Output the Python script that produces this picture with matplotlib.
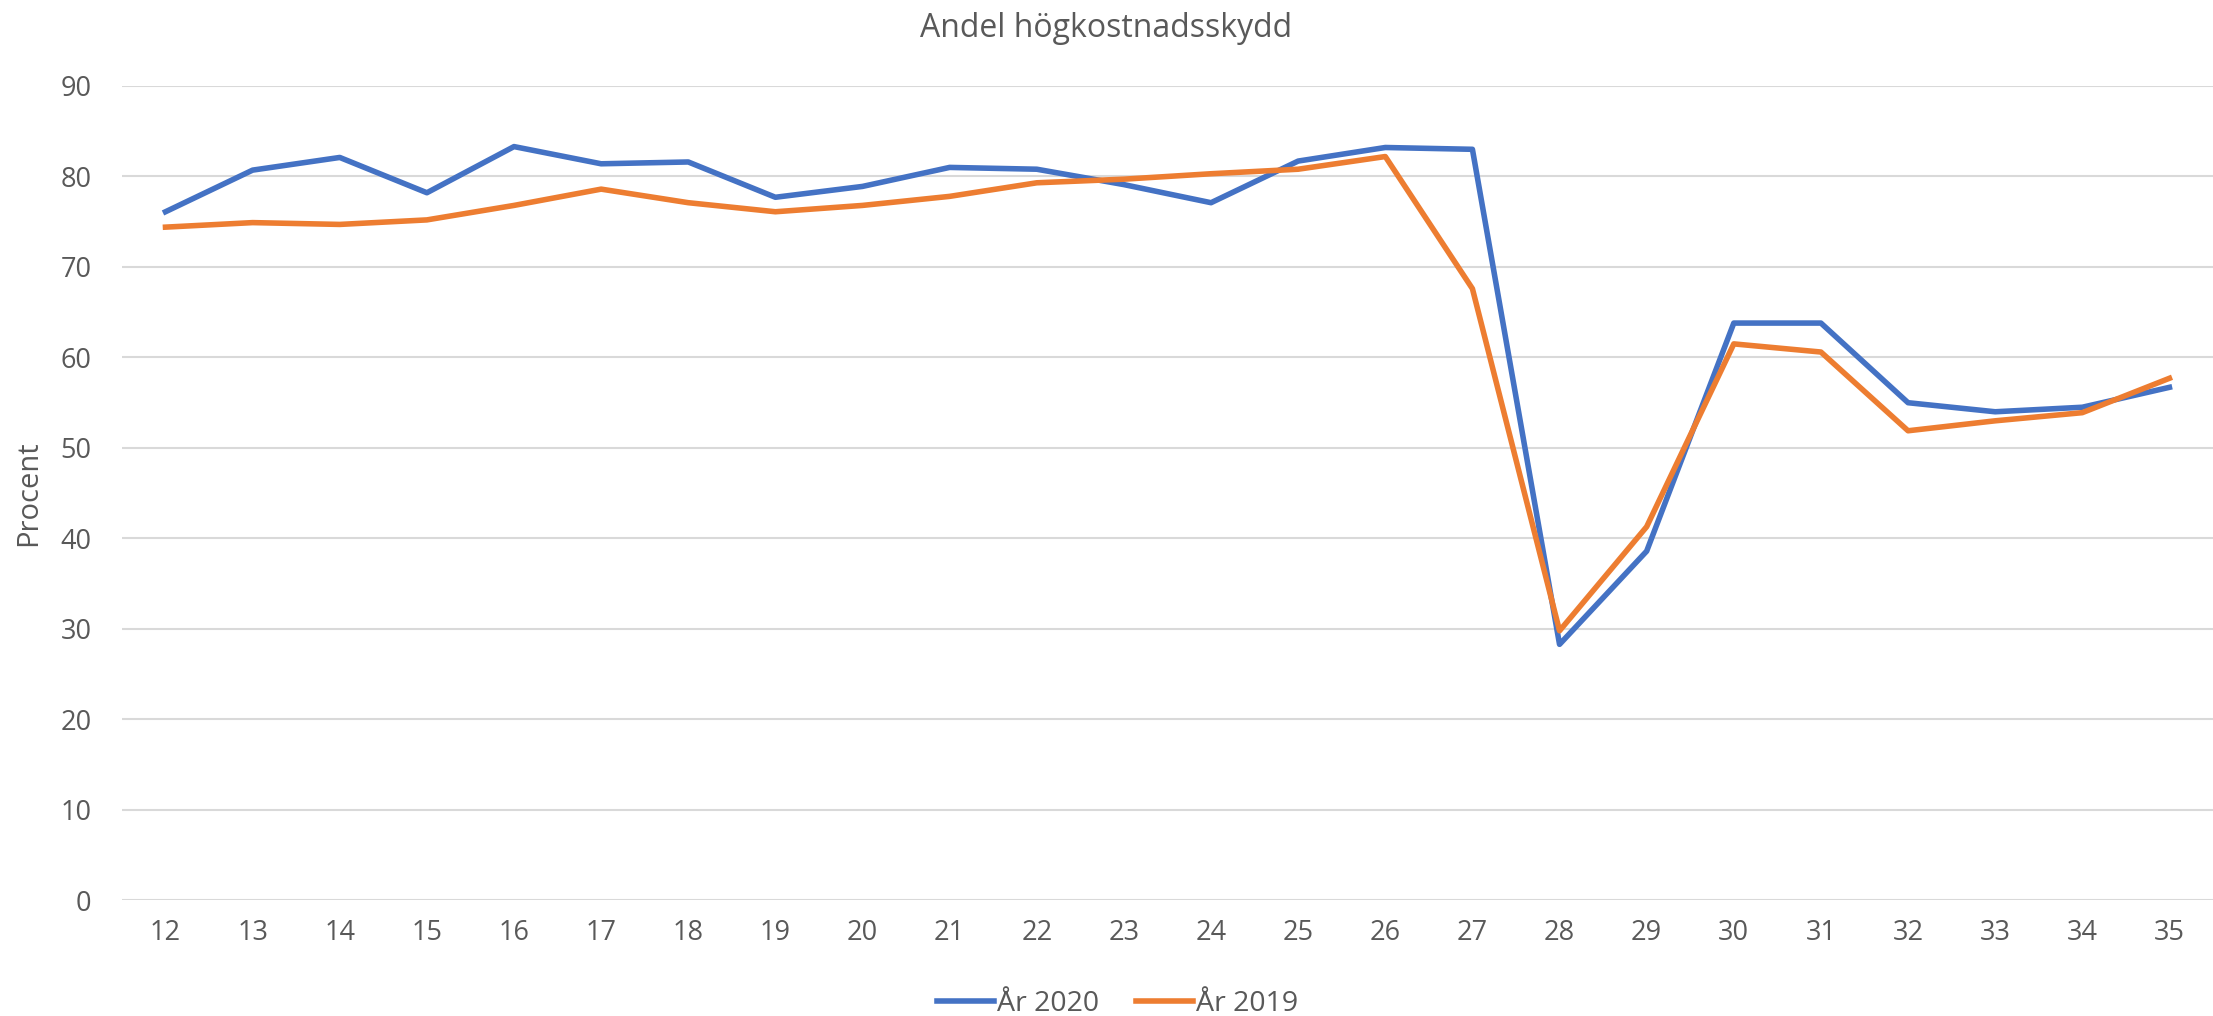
import matplotlib.pyplot as plt
import numpy as np

# weeks and share with high-cost protection (percent)
weeks = [12, 13, 14, 15, 16, 17, 18, 19, 20, 21, 22, 23,
         24, 25, 26, 27, 28, 29, 30, 31, 32, 33, 34, 35]
ar_2020 = [76.1, 80.7, 82.1, 78.2, 83.3, 81.4, 81.6, 77.7, 78.9, 81.0, 80.8, 79.1,
           77.1, 81.7, 83.2, 83.0, 28.3, 38.6, 63.8, 63.8, 55.0, 54.0, 54.5, 56.7]
ar_2019 = [74.4, 74.9, 74.7, 75.2, 76.8, 78.6, 77.1, 76.1, 76.8, 77.8, 79.3, 79.7,
           80.3, 80.8, 82.2, 67.6, 29.8, 41.3, 61.5, 60.6, 51.9, 53.0, 53.9, 57.7]
yticks = [0, 10, 20, 30, 40, 50, 60, 70, 80, 90]

grey = '#595959'
plt.rcParams['font.family'] = ['Open Sans', 'DejaVu Sans']

fig = plt.figure(figsize=(22.13, 10.16), dpi=100)
ax = fig.add_axes([0.0551, 0.1137, 0.9449, 0.8017])

x = np.arange(len(weeks))
ax.plot(x, ar_2020, color='#4472C4', lw=4, label='År 2020', solid_joinstyle='round')
ax.plot(x, ar_2019, color='#ED7D31', lw=4, label='År 2019', solid_joinstyle='round')

ax.set_xlim(-0.5, len(weeks) - 0.5)
ax.set_ylim(0, 90)
ax.set_yticks(yticks)
ax.set_xticks(x)
ax.set_xticklabels([str(w) for w in weeks])
ax.yaxis.grid(True, color='#D9D9D9', lw=1.5)
ax.set_axisbelow(True)
for s in ax.spines.values():
    s.set_visible(False)
ax.tick_params(length=0, labelsize=19.5, colors=grey, pad=13)
ax.tick_params(axis='y', pad=22)

ax.set_ylabel('Procent', fontsize=21, color=grey, labelpad=12)
fig.text(0.5, 0.972, 'Andel högkostnadsskydd', ha='center', va='center',
         fontsize=23, color=grey)

fig.legend(loc='center', bbox_to_anchor=(0.505, 0.012), ncol=2, frameon=False,
           fontsize=20.5, labelcolor=grey, handlelength=2.0, handletextpad=0.1,
           columnspacing=1.3)

fig.savefig('out.png', dpi=100)
